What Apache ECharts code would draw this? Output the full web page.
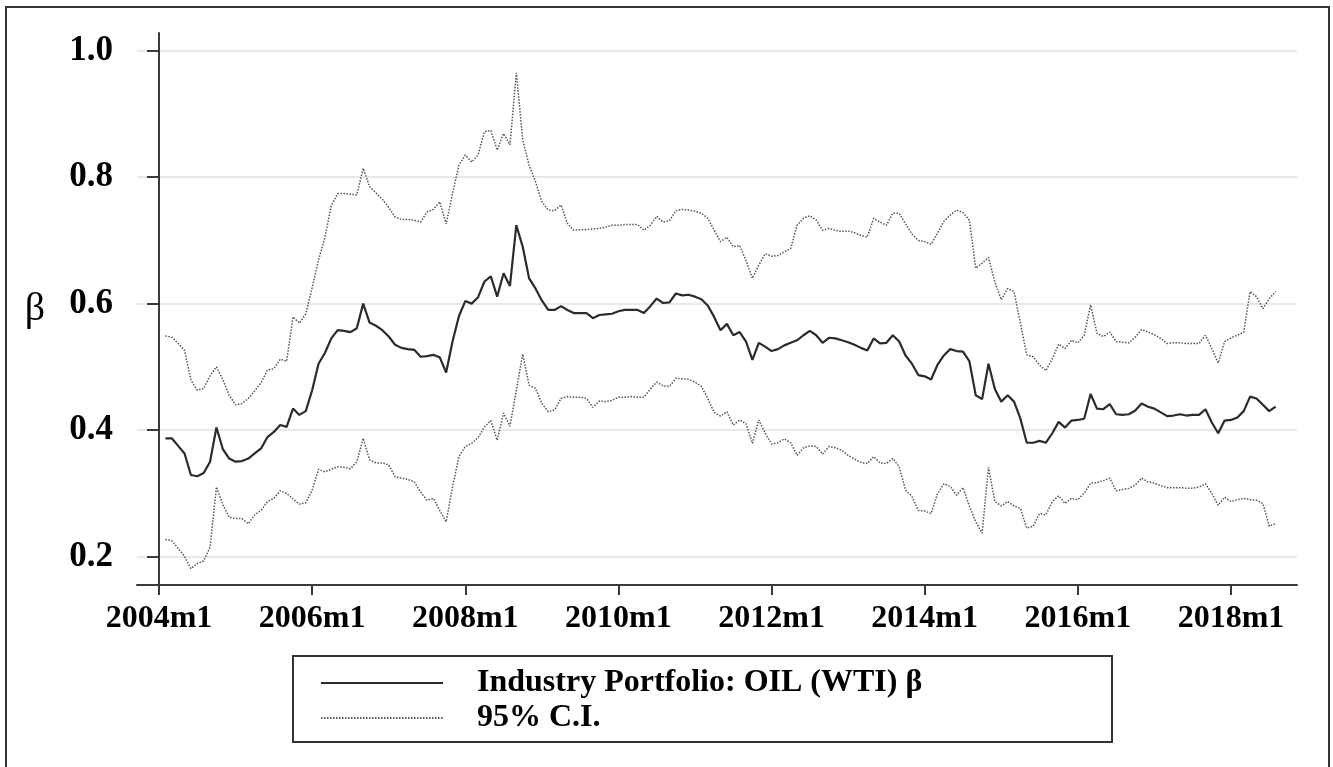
<!DOCTYPE html>
<html>
<head>
<meta charset="utf-8">
<title>Industry Portfolio: OIL (WTI) beta</title>
<script src="https://cdn.jsdelivr.net/npm/echarts@6/dist/echarts.min.js"></script>
<style>
  html, body { margin: 0; padding: 0; background: #fff; }
  #chart { width: 1333px; height: 767px; }
</style>
</head>
<body>
<div id="chart"></div>
<script>
// monthly estimates, 2004m2 .. 2018m8 (month index 1 = 2004m2, 0 = 2004m1)
let firstMonth = 1;
let tickMonths = [0, 24, 48, 72, 96, 120, 144, 168];
let tickLabels = ['2004m1', '2006m1', '2008m1', '2010m1', '2012m1', '2014m1', '2016m1', '2018m1'];
let yTicks = [0.2, 0.4, 0.6, 0.8, 1.0];

let beta = [
  .387, .387, .375, .363, .329, .327, .332, .350, .404, .370, .355,
  .350, .351, .355, .363, .371, .389, .397, .408, .405, .434, .424, .430,
  .463, .505, .522, .545, .558, .557, .555, .561, .600, .570, .565, .558,
  .548, .535, .530, .528, .527, .516, .517, .519, .515, .491, .540, .580,
  .604, .600, .610, .635, .643, .611, .648, .628, .724, .690, .640, .624,
  .605, .590, .590, .596, .590, .585, .585, .585, .577, .582, .583, .584,
  .588, .590, .590, .590, .585, .596, .608, .601, .602, .616, .613, .614,
  .611, .607, .597, .579, .558, .568, .550, .555, .540, .511, .538, .532,
  .525, .528, .534, .538, .542, .550, .557, .550, .538, .546, .545, .542,
  .539, .535, .530, .526, .545, .537, .538, .550, .540, .518, .505, .487,
  .485, .480, .503, .518, .528, .525, .524, .509, .455, .449, .505, .465,
  .445, .455, .445, .418, .380, .380, .383, .380, .395, .413, .404, .415,
  .416, .418, .457, .434, .433, .441, .425, .424, .425, .431, .442, .437,
  .434, .428, .422, .423, .425, .423, .424, .424, .433, .412, .395, .415,
  .416, .420, .430, .453, .450, .440, .430, .437
];

let upper = [
  .549, .547, .537, .526, .479, .463, .466, .486, .500, .480, .455,
  .440, .442, .450, .462, .475, .495, .497, .512, .509, .579, .569, .584,
  .625, .669, .705, .755, .774, .774, .773, .772, .814, .785, .775, .765,
  .752, .737, .733, .733, .732, .729, .745, .749, .761, .726, .774, .819,
  .835, .824, .835, .872, .874, .843, .869, .851, .965, .859, .819, .793,
  .761, .748, .747, .756, .727, .716, .717, .717, .718, .719, .721, .724,
  .724, .725, .725, .725, .716, .724, .738, .729, .731, .747, .749, .748,
  .746, .743, .735, .716, .698, .705, .690, .692, .668, .640, .661, .679,
  .675, .676, .682, .687, .724, .735, .739, .732, .716, .719, .716, .714,
  .715, .712, .708, .705, .735, .729, .724, .743, .743, .726, .710, .700,
  .698, .694, .711, .730, .740, .748, .744, .732, .656, .664, .673, .634,
  .606, .624, .619, .569, .519, .516, .503, .494, .513, .536, .529, .542,
  .538, .550, .598, .553, .548, .555, .540, .539, .538, .547, .559, .555,
  .551, .545, .537, .538, .538, .537, .537, .537, .550, .529, .506, .540,
  .546, .550, .555, .619, .611, .592, .608, .619
];

let lower = [
  .227, .225, .213, .200, .181, .189, .193, .215, .310, .282, .262,
  .260, .260, .252, .266, .273, .287, .292, .304, .300, .291, .283, .285,
  .305, .338, .334, .338, .342, .341, .339, .350, .387, .353, .348, .348,
  .345, .326, .324, .322, .318, .302, .289, .292, .273, .255, .310, .358,
  .374, .379, .388, .405, .415, .384, .427, .406, .463, .520, .471, .466,
  .442, .429, .432, .450, .453, .452, .452, .450, .436, .446, .445, .447,
  .452, .452, .453, .452, .452, .465, .476, .470, .469, .482, .481, .480,
  .476, .469, .450, .428, .422, .429, .408, .416, .410, .379, .416, .395,
  .378, .380, .386, .380, .360, .372, .375, .374, .362, .374, .372, .368,
  .360, .354, .349, .347, .358, .348, .347, .355, .342, .305, .295, .273,
  .272, .268, .299, .315, .311, .297, .309, .280, .255, .237, .341, .287,
  .280, .287, .280, .276, .245, .248, .268, .266, .287, .296, .284, .292,
  .290, .300, .316, .317, .320, .324, .304, .306, .308, .313, .324, .318,
  .316, .312, .309, .309, .309, .308, .308, .310, .315, .300, .281, .294,
  .287, .290, .292, .290, .289, .284, .248, .252
];

let toPairs = (arr) => arr.map((v, k) => [firstMonth + k, v]);

let chart = echarts.init(document.getElementById('chart'), null, {renderer: 'canvas'});

let serif = '"Liberation Serif", "DejaVu Serif", serif';

let option = {
  animation: false,
  backgroundColor: '#fff',
  grid: { left: 137, right: 36, top: 33, bottom: 182, containLabel: false },
  xAxis: {
    type: 'value',
    min: -3.45,
    max: 178.35,
    axisLine: { show: true, onZero: false, lineStyle: { color: '#3a3a3a', width: 2 } },
    axisTick: { show: true, length: 10, customValues: tickMonths, lineStyle: { color: '#3a3a3a', width: 2 } },
    axisLabel: {
      customValues: tickMonths,
      margin: 18,
      color: '#000',
      fontFamily: serif,
      fontWeight: 'bold',
      fontSize: 32,
      formatter: (v) => tickLabels[tickMonths.indexOf(v)] || ''
    },
    splitLine: { show: false }
  },
  yAxis: {
    type: 'value',
    min: 0.155,
    max: 1.028,
    name: 'β',
    nameLocation: 'middle',
    nameRotate: 0,
    nameGap: 92,
    nameTextStyle: { fontFamily: serif, fontSize: 40, color: '#000' },
    axisLine: { show: true, lineStyle: { color: '#3a3a3a', width: 2 } },
    axisTick: { show: true, length: 12, customValues: yTicks, lineStyle: { color: '#3a3a3a', width: 2 } },
    axisLabel: {
      customValues: yTicks,
      margin: 24,
      color: '#000',
      fontFamily: serif,
      fontWeight: 'bold',
      fontSize: 35,
      formatter: (v) => v.toFixed(1)
    },
    splitLine: { show: true, lineStyle: { color: '#e8e8e8', width: 2 } }
  },
  legend: {
    orient: 'vertical',
    left: 320,
    top: 667,
    padding: 0,
    itemWidth: 122,
    itemHeight: 14,
    itemGap: 3,
    itemStyle: { opacity: 0 },
    data: ['Industry Portfolio: OIL (WTI) β', '95% C.I.'],
    textStyle: {
      fontFamily: serif,
      fontWeight: 'bold',
      fontSize: 32,
      color: '#000',
      padding: [0, 0, 0, 29]
    }
  },
  graphic: [
    { type: 'rect', shape: { x: 6, y: 7, width: 1323, height: 800 },
      style: { fill: 'none', stroke: '#333', lineWidth: 2 }, silent: true },
    { type: 'rect', shape: { x: 293, y: 656, width: 819, height: 86 },
      style: { fill: 'none', stroke: '#333', lineWidth: 2 }, silent: true }
  ],
  series: [
    {
      name: 'Industry Portfolio: OIL (WTI) β',
      type: 'line',
      data: toPairs(beta),
      symbol: 'none',
      lineStyle: { color: '#2b2b2b', width: 2.2 },
      itemStyle: { color: '#2b2b2b' },
      z: 3
    },
    {
      name: '95% C.I.',
      type: 'line',
      data: toPairs(upper),
      symbol: 'none',
      lineStyle: { color: '#555', width: 1.5, type: [1.5, 1.5] },
      itemStyle: { color: '#555' }
    },
    {
      name: '95% C.I.',
      type: 'line',
      data: toPairs(lower),
      symbol: 'none',
      lineStyle: { color: '#555', width: 1.5, type: [1.5, 1.5] },
      itemStyle: { color: '#555' }
    }
  ]
};

chart.setOption(option);
</script>
</body>
</html>
